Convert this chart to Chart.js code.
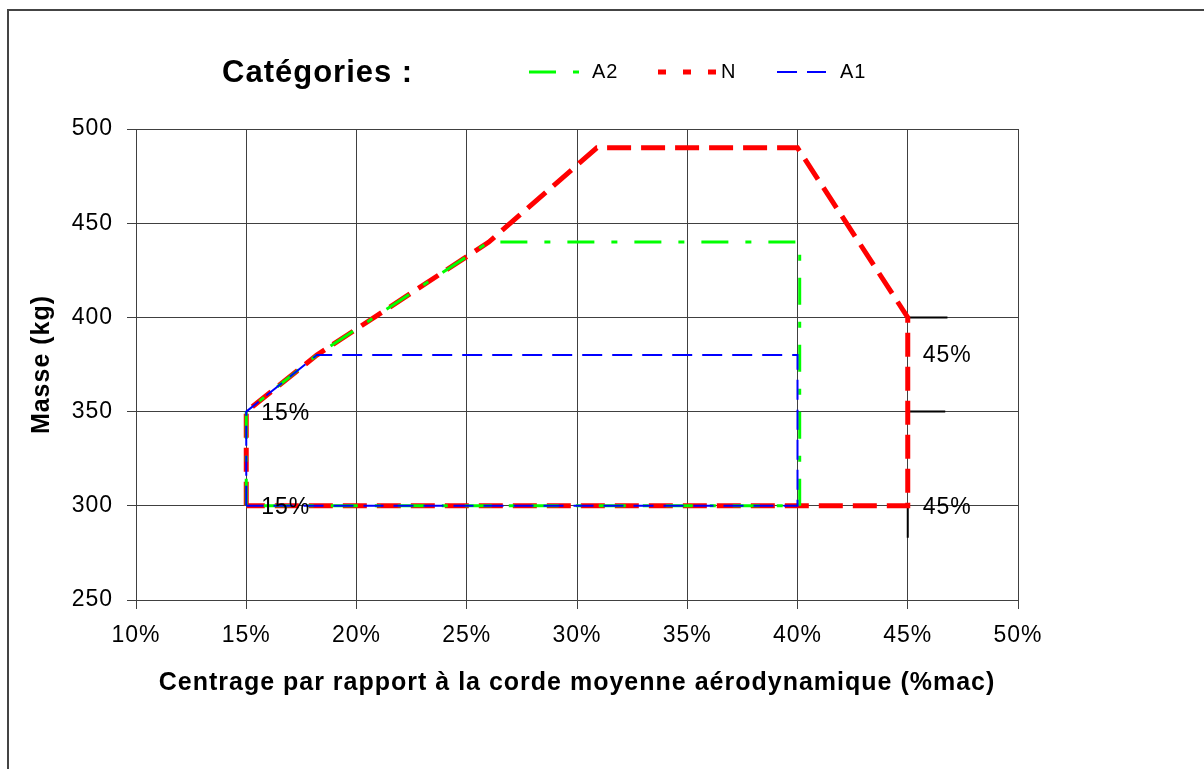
<!DOCTYPE html>
<html lang="fr">
<head>
<meta charset="utf-8">
<title>Centrage</title>
<script src="https://cdn.jsdelivr.net/npm/chart.js@4.4.1/dist/chart.umd.min.js"></script>
<style>
html, body { margin: 0; padding: 0; background: #fff; }
#wrap { width: 1204px; height: 769px; position: relative; overflow: hidden; }
</style>
</head>
<body>
<div id="wrap"><canvas id="myChart" width="1204" height="769"></canvas></div>
<script>
// centrage (% corde moyenne aérodynamique) et masse (kg) pour chaque catégorie
var centrageA2 = [15, 15, 18.2, 26, 40.1, 40.1, 15];
var masseA2    = [300, 350, 380, 440, 440, 300, 300];
var centrageN  = [15, 15, 18.2, 26, 30.9, 40, 45, 45, 15];
var masseN     = [300, 350, 380, 440, 490, 490, 400, 300, 300];
var centrageA1 = [15, 15, 18.2, 40, 40, 15];
var masseA1    = [300, 350, 380, 380, 300, 300];

// petits traits noirs vers 45 %
var centrageReperes = [45, 46.8, 45.5, 45, 46.7, 45.5, 45, 45];
var masseReperes    = [400, 400, null, 350, 350, null, 300, 283];

// étiquettes posées sur le graphique
var etiquettes  = ['15%', '15%', '45%', '45%'];
var etiquettesX = [15, 15, 45, 45];
var etiquettesY = [350, 300, 381, 300];

var xTicks = [10, 15, 20, 25, 30, 35, 40, 45, 50];
var yTicks = [250, 300, 350, 400, 450, 500];

var legendeOrdre = ['A2', 'N', 'A1'];

function points(xs, ys) {
    return xs.map(function (x, i) { return { x: x, y: ys[i] }; });
}

var police = '"Liberation Sans", Arial, sans-serif';
var grille = '#404040';

var dessin = {
    id: 'dessin',
    beforeUpdate: function (chart) {
        if ('letterSpacing' in chart.ctx) chart.ctx.letterSpacing = '1px';
    },
    beforeDraw: function (chart) {
        if ('letterSpacing' in chart.ctx) chart.ctx.letterSpacing = '1px';
    },
    afterDraw: function (chart) {
        var ctx = chart.ctx;
        var xs = chart.scales.x, ys = chart.scales.y;
        ctx.save();

        // cadre
        ctx.strokeStyle = '#444';
        ctx.lineWidth = 2;
        ctx.setLineDash([]);
        ctx.strokeRect(8, 10, 1400, 900);

        // étiquettes 15% / 45%
        ctx.fillStyle = '#000';
        ctx.font = '23px ' + police;
        ctx.textAlign = 'left';
        ctx.textBaseline = 'middle';
        etiquettes.forEach(function (t, i) {
            ctx.fillText(t, xs.getPixelForValue(etiquettesX[i]) + 15, ys.getPixelForValue(etiquettesY[i]) + 2);
        });

        // légende
        ctx.font = 'bold 31px ' + police;
        ctx.fillText('Catégories :', 222, 73);

        var pos = { A2: [529, 580, 592], N: [658, 716, 721], A1: [777, 826, 840] };
        var tirets = { A2: [27, 17, 6, 17], N: [8, 17], A1: [20, 10] };
        chart.data.datasets.forEach(function (ds) {
            if (legendeOrdre.indexOf(ds.label) < 0) return;
            var p = pos[ds.label];
            ctx.beginPath();
            ctx.strokeStyle = ds.borderColor;
            ctx.lineWidth = ds.borderWidth;
            ctx.setLineDash(tirets[ds.label]);
            ctx.moveTo(p[0], 72);
            ctx.lineTo(p[1], 72);
            ctx.stroke();
            ctx.setLineDash([]);
            ctx.fillStyle = '#000';
            ctx.font = '20px "Liberation Sans Narrow", ' + police;
            ctx.fillText(ds.label, p[2], 72);
        });
        ctx.restore();
    }
};

var ctx = document.querySelector('#myChart').getContext('2d');
var myChart = new Chart(ctx, {
    type: 'line',
    data: {
        datasets: [{
            label: 'A1',
            data: points(centrageA1, masseA1),
            borderColor: '#0000ff',
            borderWidth: 2,
            borderDash: [20, 10],
            order: 0
        }, {
            label: 'A2',
            data: points(centrageA2, masseA2),
            borderColor: '#00ff00',
            borderWidth: 3,
            borderDash: [27, 17, 6, 17],
            order: 1
        }, {
            label: 'N',
            data: points(centrageN, masseN),
            borderColor: '#ff0000',
            borderWidth: 5,
            borderDash: [24, 10],
            order: 2
        }, {
            label: 'reperes',
            data: points(centrageReperes, masseReperes),
            borderColor: '#000000',
            borderWidth: 2,
            spanGaps: false,
            order: 3
        }]
    },
    options: {
        responsive: false,
        animation: false,
        devicePixelRatio: 1,
        layout: { padding: { left: 0, top: 129, right: 186, bottom: 0 } },
        elements: {
            point: { radius: 0, hoverRadius: 0 },
            line: { tension: 0, fill: false, borderCapStyle: 'butt', borderJoinStyle: 'miter' }
        },
        plugins: {
            legend: { display: false },
            tooltip: { enabled: false }
        },
        scales: {
            x: {
                type: 'linear',
                min: 10,
                max: 50,
                afterBuildTicks: function (s) { s.ticks = xTicks.map(function (v) { return { value: v }; }); },
                afterFit: function (s) { s.height = 169; },
                ticks: {
                    color: '#000',
                    padding: 13,
                    maxRotation: 0,
                    font: { family: police, size: 23 },
                    callback: function (v) { return v + '%'; }
                },
                grid: { color: grille, lineWidth: 1, tickLength: 9 },
                border: { color: grille, width: 1 },
                title: {
                    display: true,
                    text: 'Centrage par rapport à la corde moyenne aérodynamique (%mac)',
                    color: '#000',
                    font: { family: police, size: 25, weight: 'bold' },
                    padding: { top: 0, bottom: 71 }
                }
            },
            y: {
                min: 250,
                max: 500,
                afterBuildTicks: function (s) { s.ticks = yTicks.map(function (v) { return { value: v }; }); },
                afterFit: function (s) { s.width = 136; },
                ticks: {
                    color: '#000',
                    padding: 14,
                    font: { family: police, size: 23 }
                },
                grid: { color: grille, lineWidth: 1, tickLength: 9 },
                border: { color: grille, width: 1 },
                title: {
                    display: true,
                    text: 'Masse (kg)',
                    color: '#000',
                    font: { family: police, size: 25, weight: 'bold' },
                    padding: { top: 27, bottom: 0 }
                }
            }
        }
    },
    plugins: [dessin]
});
</script>
</body>
</html>
